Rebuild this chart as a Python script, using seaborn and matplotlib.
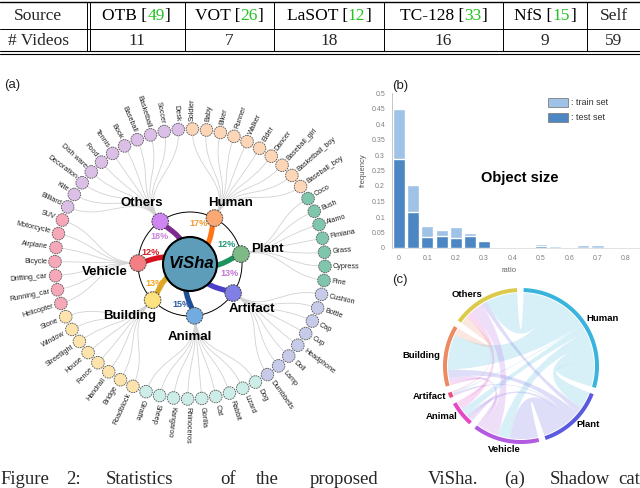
import numpy as np
import pandas as pd
import seaborn as sns
import matplotlib.pyplot as plt
from matplotlib.patches import Circle, PathPatch, Polygon, Rectangle
from matplotlib.path import Path

# ---- table ----
sources = ["OTB", "VOT", "LaSOT", "TC-128", "NfS", "Self"]
source_refs = ["49", "26", "12", "33", "15", ""]
videos = [11, 7, 18, 16, 9, 59]

# ---- (a) category tree ----
categories = ["Plant", "Human", "Others", "Vehicle", "Building", "Animal", "Artifact"]
category_shares = ["12%", "17%", "18%", "12%", "13%", "15%", "13%"]
plant = ["Pine", "Cypress", "Grass", "Fimiana", "Alamo", "Bush", "Coco"]
human = ["Baseball_boy", "Basketball_boy", "Baseball_girl", "Dancer", "Elder",
         "Walker", "Runner", "Biker", "Baby", "Soldier"]
others = ["Desk", "Soccer", "Basketball", "Baseball", "Book", "Tennis", "Food",
          "Dish ware", "Decoration", "Kite", "Billiard"]
vehicle = ["SUV", "Motorcycle", "Airplane", "Bicycle", "Drifting_car", "Running_car", "Helicopter"]
building = ["Stone", "Window", "Streetlight", "House", "Fence", "Handrail", "Bridge", "Roadblock"]
animal = ["Giraffe", "Sheep", "Kangaroo", "Rhinoceros", "Gorilla", "Cat", "Rabbit", "Lizard", "Dog"]
artifact = ["Dumbbells", "Lamp", "Doll", "Headphone", "Cup", "Cap", "Bottle", "Cushion"]

# ---- (b) object size ----
ratio_bins = ["0", "0.05", "0.1", "0.15", "0.2", "0.25", "0.3", "0.35", "0.4",
              "0.45", "0.5", "0.55", "0.6", "0.65", "0.7", "0.75", "0.8"]
train_freq = [0.448, 0.204, 0.072, 0.057, 0.068, 0.048, 0.024, 0.004, 0.004,
              0.003, 0.014, 0.007, 0.002, 0.009, 0.009, 0.001, 0.0]
test_freq = [0.287, 0.115, 0.034, 0.038, 0.032, 0.038, 0.024, 0.0, 0.0,
             0.0, 0.008, 0.0, 0.0, 0.0, 0.0, 0.0, 0.0]
ratio_ticks = ["0", "0.1", "0.2", "0.3", "0.4", "0.5", "0.6", "0.7", "0.8"]

# ---- (c) co-occurrence ----
chord_groups = ["Human", "Plant", "Vehicle", "Animal", "Artifact", "Building", "Others"]
chord_counts = [
    [20, 14, 10, 6, 1, 28, 25],
    [14, 0, 22, 3, 1, 6, 4],
    [10, 22, 0, 3, 1, 4, 10],
    [6, 3, 3, 0, 0, 2, 5],
    [1, 1, 1, 0, 0, 0, 1],
    [28, 6, 4, 2, 0, 0, 6],
    [25, 4, 10, 5, 1, 6, 0],
]

caption = "Figure 2: Statistics of the proposed ViSha. (a) Shadow cat"

sns.set_theme(style="white")
plt.rcParams["font.family"] = ["Liberation Sans", "DejaVu Sans"]

W, H = 640, 488
fig = plt.figure(figsize=(6.4, 4.88), dpi=100)
ax = fig.add_axes([0, 0, 1, 1])
ax.set_xlim(0, W)
ax.set_ylim(H, 0)
ax.axis("off")
renderer = fig.canvas.get_renderer()


def polar(c, theta, r):
    t = np.radians(theta)
    return np.array([c[0] + r * np.cos(t), c[1] - r * np.sin(t)])


def arc(c, t0, t1, r, n=40):
    ts = np.radians(np.linspace(t0, t1, n))
    return np.column_stack([c[0] + r * np.cos(ts), c[1] - r * np.sin(ts)])


def pieces_text(x, y, pieces, **kw):
    objs = [ax.text(0, y, s, color=c, ha="left", va="center", **kw) for s, c in pieces]
    widths = [o.get_window_extent(renderer).width for o in objs]
    x0 = x - sum(widths) / 2
    for o, w in zip(objs, widths):
        o.set_x(x0)
        x0 += w


# ---- table ----
serif = ["Liberation Serif", "DejaVu Serif"]
col_edges = [0, 88.5, 184.5, 274, 384, 503, 587, 640]
row_y = [16, 41]
ax.plot([0, W], [1.5, 1.5], color="black", lw=1.0)
ax.plot([0, W], [29, 29], color="black", lw=0.7)
ax.plot([0, W], [51, 51], color="black", lw=0.8)
ax.plot([0, W], [54, 54], color="black", lw=0.8)
ax.plot([87, 87], [1.5, 51], color="black", lw=0.7)
ax.plot([90, 90], [1.5, 51], color="black", lw=0.7)
for xe in col_edges[2:-1]:
    ax.plot([xe, xe], [1.5, 51], color="black", lw=0.7)
ax.text(38, row_y[0], "Source", ha="center", va="center", fontsize=12.5, family=serif)
ax.text(38, row_y[1], "# Videos", ha="center", va="center", fontsize=12.5, family=serif)
for k, (s, r, v) in enumerate(zip(sources, source_refs, videos)):
    xm = (col_edges[k + 1] + col_edges[k + 2]) / 2
    if r:
        pieces_text(xm, row_y[0], [(s + " [", "black"), (r, "#22c322"), ("]", "black")],
                    fontsize=12.5, family=serif)
    else:
        ax.text(xm, row_y[0], s, ha="center", va="center", fontsize=12.5, family=serif)
    ax.text(xm, row_y[1], str(v), ha="center", va="center", fontsize=12.5, family=serif)

# ---- (a) radial tree ----
ca = (190, 264)
r_leaf, r_cat, r_root = 135, 52, 27
leaf_groups = [plant, human, others, vehicle, building, animal, artifact]
cat_colors = ["#7dba86", "#fba874", "#cf86f0", "#f47f82", "#fee27f", "#72abe0", "#7f7fe6"]
leaf_colors = ["#80c6ac", "#fdd6b8", "#dbbfe6", "#f6a8b8", "#fde4ad", "#cdeee8", "#c7cbe9"]
link_colors = ["#1d9160", "#ff7415", "#7d2a91", "#d6141f", "#d9a620", "#1e4f96", "#4c40c9"]
share_colors = ["#23977a", "#f29b33", "#cc86dc", "#d41d25", "#f0a526", "#2f5ea6", "#c377d6"]
share_dtheta = [17, 16, 12, -15, -15, -17, 21]
label_offsets = [(26, -5), (16, -15), (-18, -18), (-33, 9), (-23, 16), (-5, 21), (19, 16)]

step = 360 / sum(len(g) for g in leaf_groups)
theta = -7.0
ax.add_patch(Circle(ca, r_cat, fc="none", ec="black", lw=0.7, zorder=2))
for k, (cname, group) in enumerate(zip(categories, leaf_groups)):
    angles = [theta + step * i for i in range(len(group))]
    theta += step * len(group)
    tc = float(np.mean(angles))
    node = polar(ca, tc, r_cat)
    rm = (r_cat + r_leaf) / 2
    for lname, ta in zip(group, angles):
        p3 = polar(ca, ta, r_leaf)
        path = Path([node, polar(ca, tc, rm), polar(ca, ta, rm), p3],
                    [Path.MOVETO, Path.CURVE4, Path.CURVE4, Path.CURVE4])
        ax.add_patch(PathPatch(path, fc="none", ec="#d2d2d2", lw=0.6, zorder=1))
        ax.add_patch(Circle(p3, 6.3, fc=leaf_colors[k], ec="#555555", lw=0.6,
                            ls=(0, (2, 1)), zorder=5))
        t = ta % 360
        lp = polar(ca, ta, r_leaf + 8)
        if 90 < t < 250:
            ax.text(lp[0], lp[1], lname, rotation=t - 180, ha="right", va="center",
                    rotation_mode="anchor", fontsize=5.2, color="#222222", zorder=6)
        else:
            rot = t if t <= 90 else t - 360
            ax.text(lp[0], lp[1], lname, rotation=rot, ha="left", va="center",
                    rotation_mode="anchor", fontsize=5.2, color="#222222", zorder=6)
    # thick link from root
    path = Path([np.array(ca), polar(ca, tc - 25, 30), polar(ca, tc - 5, 36), node],
                [Path.MOVETO, Path.CURVE4, Path.CURVE4, Path.CURVE4])
    ax.add_patch(PathPatch(path, fc="none", ec=link_colors[k], lw=3.8, zorder=3,
                           capstyle="round"))
    ax.add_patch(Circle(node, 8.3, fc=cat_colors[k], ec="#444444", lw=0.7,
                        ls=(0, (2, 1)), zorder=5))
    sp = polar(ca, tc + share_dtheta[k], 41)
    ax.text(sp[0], sp[1], category_shares[k], ha="center", va="center", fontsize=6.5,
            fontweight="bold", color=share_colors[k], zorder=6)
    dx, dy = label_offsets[k]
    ax.text(node[0] + dx, node[1] + dy, cname, ha="center", va="center", fontsize=9.5,
            fontweight="bold", color="black", zorder=6)

ax.add_patch(Circle(ca, r_root, fc="#5d9db9", ec="black", lw=1.5, zorder=4))
ax.text(ca[0] + 1, ca[1], "ViSha", ha="center", va="center", fontsize=12,
        fontweight="bold", fontstyle="italic", color="black", zorder=6)
ax.text(12, 85, "(a)", ha="center", va="center", fontsize=9.5, color="#222222")

# ---- (b) object size histogram ----
df_b = pd.DataFrame({"ratio": ratio_bins, "train": train_freq, "test": test_freq})
ax_b = fig.add_axes([392 / W, 1 - 248 / H, 248 / W, 155 / H])
ax_b.set_facecolor("none")
sns.barplot(data=df_b, x="ratio", y="train", order=ratio_bins, color="#9fc2e7",
            width=0.85, saturation=1, ax=ax_b)
sns.barplot(data=df_b, x="ratio", y="test", order=ratio_bins, color="#4d87c3",
            width=0.85, saturation=1, ax=ax_b)
ax_b.set_xlim(-0.5, 17)
ax_b.set_ylim(0, 0.5)
ax_b.set_xticks(range(0, 17, 2))
ax_b.set_xticklabels(ratio_ticks)
yt = np.arange(0, 0.501, 0.05)
ax_b.set_yticks(yt)
ax_b.set_yticklabels([f"{v:g}" for v in yt])
ax_b.tick_params(length=0, labelsize=5, colors="#808080", pad=5)
for s in ["top", "right"]:
    ax_b.spines[s].set_visible(False)
ax_b.spines["left"].set_color("#c8c8c8")
ax_b.spines["bottom"].set_color("#dddddd")
ax_b.spines["left"].set_linewidth(0.7)
ax_b.spines["bottom"].set_linewidth(0.6)
ax_b.set_xlabel("ratio", fontsize=5.5, color="#666666")
ax_b.set_ylabel("frequency", fontsize=5.5, color="#555555")
ax_b.xaxis.set_label_coords((509 - 392) / 248, -(267 - 248) / 155)
ax_b.yaxis.set_label_coords((367 - 392) / 248, 0.5)
ax.text(400, 86, "(b)", ha="center", va="center", fontsize=9.5, color="#222222")
ax.text(520, 178, "Object size", ha="center", va="center", fontsize=10.5,
        fontweight="bold", color="black")
ax.add_patch(Rectangle((548, 98), 20, 9, fc="#9fc2e7", ec="#808080", lw=0.6))
ax.add_patch(Rectangle((548, 113), 20, 9, fc="#4d87c3", ec="#808080", lw=0.6))
ax.text(571, 102.5, ": train set", ha="left", va="center", fontsize=6.5, color="#333333")
ax.text(571, 117.5, ": test set", ha="left", va="center", fontsize=6.5, color="#333333")

# ---- (c) chord diagram ----
cc = (521, 366)
r_out, r_in = 78, 74
chord_colors = ["#3ab4dc", "#5a5ae0", "#b25be0", "#e448c8", "#ea4f7f", "#ec8a62", "#dccb4a"]
M = np.array(chord_counts, dtype=float)
n = len(chord_groups)
tot = M.sum(axis=1)
gap = 5
scale = (360 - gap * n) / tot.sum()
starts = []
a = 88.0
for i in range(n):
    starts.append(a)
    a -= tot[i] * scale + gap

pos = {}
for i in range(n):
    a = starts[i]
    for s in range(1, n + 1):
        j = (i - s) % n
        span = M[i, j] * scale
        pos[(i, j)] = (a, a - span)
        a -= span

for i in range(n):
    for j in range(i, n):
        if M[i, j] <= 0:
            continue
        s0, s1 = pos[(i, j)]
        if i == j:
            mid = (s0 + s1) / 2
            (s0, s1), (t0, t1) = (s0, mid), (mid, s1)
        else:
            t0, t1 = pos[(j, i)]
        pa = arc(cc, s0, s1, r_in - 1)
        pb = arc(cc, t0, t1, r_in - 1)
        verts = list(pa) + [np.array(cc), pb[0]] + list(pb[1:]) + [np.array(cc), pa[0], pa[0]]
        codes = ([Path.MOVETO] + [Path.LINETO] * (len(pa) - 1) + [Path.CURVE3, Path.CURVE3]
                 + [Path.LINETO] * (len(pb) - 1) + [Path.CURVE3, Path.CURVE3, Path.CLOSEPOLY])
        ax.add_patch(PathPatch(Path(verts, codes), fc=chord_colors[min(i, j)], ec="none",
                               alpha=0.2, zorder=2))

for i in range(n):
    a0 = starts[i]
    a1 = a0 - tot[i] * scale
    ring = np.vstack([arc(cc, a0, a1, r_out), arc(cc, a1, a0, r_in)])
    ax.add_patch(Polygon(ring, closed=True, fc=chord_colors[i], ec="none", zorder=3))
    am = (a0 + a1) / 2
    c = np.cos(np.radians(am))
    lp = polar(cc, am, r_out + 3)
    if c > 0.3:
        ha, va = "left", "center"
    elif c < -0.3:
        ha, va = "right", "center"
    else:
        ha = "center"
        va = "bottom" if np.sin(np.radians(am)) > 0 else "top"
    ax.text(lp[0], lp[1], chord_groups[i], ha=ha, va=va, fontsize=6.8,
            fontweight="bold", color="black", zorder=6)
ax.text(400, 280, "(c)", ha="center", va="center", fontsize=9.5, color="#222222")

# ---- caption (bottom edge) ----
caption_x = [0, 66, 106, 220, 256, 310, 428, 504, 550, 618]
for xw, word in zip(caption_x, caption.split()):
    ax.text(xw, 484, word, ha="left", va="baseline", fontsize=13.5, family=serif)

fig.savefig("out.png", dpi=100)
